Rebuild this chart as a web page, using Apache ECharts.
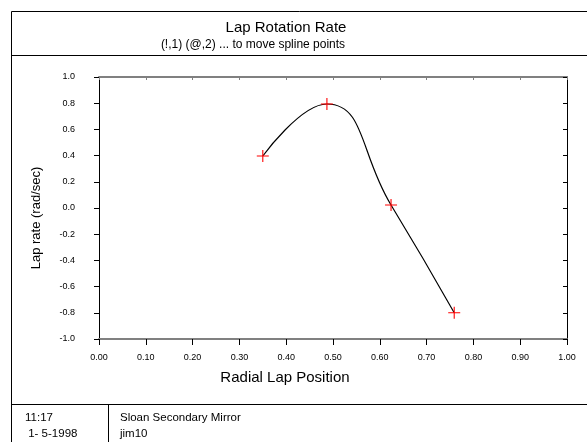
<!DOCTYPE html>
<html>
<head>
<meta charset="utf-8">
<script src="https://cdn.jsdelivr.net/npm/echarts@6/dist/echarts.min.js"></script>
<style>
  html, body { margin: 0; padding: 0; background: #fff; }
  #chart { width: 587px; height: 442px; }
</style>
</head>
<body>
<div id="chart"></div>
<script>
// spline control points
const lapPosition = [0.350, 0.487, 0.624, 0.759];
const lapRate = [0.397, 0.794, 0.023, -0.800];

const titleText = 'Lap Rotation Rate';
const subtitleText = '(!,1) (@,2) ... to move spline points';
const xTitle = 'Radial Lap Position';
const yTitle = 'Lap rate (rad/sec)';
const footTime = '11:17';
const footDate = ' 1- 5-1998';
const footProject = 'Sloan Secondary Mirror';
const footUser = 'jim10';

const font = 'Arial, "Liberation Sans", sans-serif';
const chart = echarts.init(document.getElementById('chart'));

const points = lapPosition.map((x, i) => [x, lapRate[i]]);
const plusSymbol = 'path://M5,0h1v11h-1zM0,5h11v1h-11z';

const option = {
    animation: false,
    backgroundColor: '#fff',
    grid: { left: 99, right: 20, top: 77, height: 262 },
    xAxis: [
        {
            type: 'value', position: 'bottom', min: 0, max: 1, interval: 0.1,
            axisLine: { show: true, onZero: false, lineStyle: { color: '#808080', width: 2 } },
            axisTick: { show: true, inside: false, length: 6, lineStyle: { color: '#000' } },
            axisLabel: { color: '#000', fontSize: 9, fontFamily: font, margin: 14,
                formatter: v => v.toFixed(2) },
            splitLine: { show: false }
        },
        {
            type: 'value', position: 'top', min: 0, max: 1, interval: 0.1,
            axisLine: { show: true, onZero: false, lineStyle: { color: '#808080', width: 2 } },
            axisTick: { show: true, inside: true, length: 3, lineStyle: { color: '#808080' } },
            axisLabel: { show: false },
            splitLine: { show: false }
        }
    ],
    yAxis: [
        {
            type: 'value', position: 'left', min: -1, max: 1, interval: 0.2,
            axisLine: { show: true, onZero: false, lineStyle: { color: '#000', width: 1 } },
            axisTick: { show: true, inside: false, length: 5, lineStyle: { color: '#000' } },
            axisLabel: { color: '#000', fontSize: 9, fontFamily: font, margin: 24,
                formatter: v => v.toFixed(1) },
            splitLine: { show: false }
        },
        {
            type: 'value', position: 'right', min: -1, max: 1, interval: 0.2,
            axisLine: { show: true, onZero: false, lineStyle: { color: '#000', width: 1 } },
            axisTick: { show: true, inside: true, length: 4, lineStyle: { color: '#000' } },
            axisLabel: { show: false },
            splitLine: { show: false }
        }
    ],
    series: [{
        type: 'line',
        data: points,
        smooth: 0.5,
        symbol: plusSymbol,
        symbolSize: 12,
        showSymbol: true,
        itemStyle: { color: '#ff0000' },
        lineStyle: { color: '#000', width: 1.2 },
        z: 3
    }],
    graphic: [
        // frame
        { type: 'rect', shape: { x: 11.5, y: 11.5, width: 600, height: 460 },
          style: { fill: 'none', stroke: '#000', lineWidth: 1 } },
        { type: 'line', shape: { x1: 11, y1: 55.5, x2: 587, y2: 55.5 }, style: { stroke: '#000', lineWidth: 1 } },
        { type: 'line', shape: { x1: 11, y1: 404.5, x2: 587, y2: 404.5 }, style: { stroke: '#000', lineWidth: 1 } },
        { type: 'line', shape: { x1: 108.5, y1: 404, x2: 108.5, y2: 442 }, style: { stroke: '#000', lineWidth: 1 } },
        // titles
        { type: 'text', x: 286, y: 28, style: { text: titleText, fill: '#000', font: '15px ' + font,
          textAlign: 'center', textVerticalAlign: 'middle' } },
        { type: 'text', x: 253, y: 45, style: { text: subtitleText, fill: '#000', font: '12px ' + font,
          textAlign: 'center', textVerticalAlign: 'middle' } },
        { type: 'text', x: 285, y: 378, style: { text: xTitle, fill: '#000', font: '15px ' + font,
          textAlign: 'center', textVerticalAlign: 'middle' } },
        { type: 'text', x: 36, y: 218, rotation: Math.PI / 2, style: { text: yTitle, fill: '#000',
          font: '13px ' + font, textAlign: 'center', textVerticalAlign: 'middle' } },
        // footer
        { type: 'text', x: 25, y: 418, style: { text: footTime, fill: '#000', font: '11.5px ' + font,
          textVerticalAlign: 'middle' } },
        { type: 'text', x: 25, y: 434, style: { text: footDate, fill: '#000', font: '11.5px ' + font,
          textVerticalAlign: 'middle' } },
        { type: 'text', x: 120, y: 418, style: { text: footProject, fill: '#000', font: '11.5px ' + font,
          textVerticalAlign: 'middle' } },
        { type: 'text', x: 120, y: 434, style: { text: footUser, fill: '#000', font: '11.5px ' + font,
          textVerticalAlign: 'middle' } }
    ]
};

chart.setOption(option);
</script>
</body>
</html>
